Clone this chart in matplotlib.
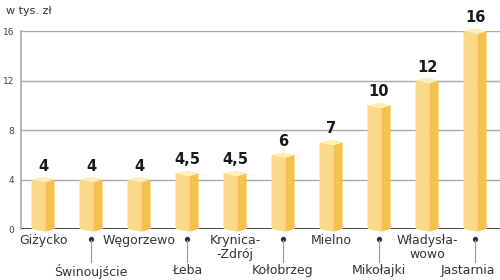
import numpy as np
import matplotlib.pyplot as plt
from matplotlib.patches import Polygon

# --- DATA ---
towns = ['Giżycko', 'Świnoujście', 'Węgorzewo', 'Łeba', 'Krynica-\n-Zdrój',
         'Kołobrzeg', 'Mielno', 'Mikołajki', 'Władysła-\nwowo', 'Jastarnia']
values = [4, 4, 4, 4.5, 4.5, 6, 7, 10, 12, 16]
value_labels = ['4', '4', '4', '4,5', '4,5', '6', '7', '10', '12', '16']
yticks = [0, 4, 8, 12, 16]

FRONT = '#fcd889'
SIDE = '#f5c04e'
TOP = '#fdefb8'

fig = plt.figure(figsize=(5, 2.8), dpi=100)
ax = fig.add_axes([0.042, 0.182, 0.958, 0.707])
ax.set_xlim(-0.46, 9.52)
ax.set_ylim(0, 16)

# grid
for t in yticks[1:]:
    ax.axhline(t, color='#a8a8a8', lw=1, zorder=0)
ax.axhline(0, color='#222222', lw=1.2, zorder=1)

# pseudo-3D bars
w = 0.24      # half width in category units
d = 0.05      # front edge offset from centre
e = 0.22      # perspective depth in data units
for i, v in enumerate(values):
    fx = i + d
    left = Polygon([(i - w, 0), (fx, -e), (fx, v - e), (i - w, v)],
                   closed=True, fc=FRONT, ec='none', zorder=3, clip_on=False)
    right = Polygon([(fx, -e), (i + w, 0), (i + w, v), (fx, v - e)],
                    closed=True, fc=SIDE, ec='none', zorder=3, clip_on=False)
    top = Polygon([(i - w, v), (i + 0.02, v + e), (i + w, v), (fx, v - e)],
                  closed=True, fc=TOP, ec='none', zorder=4, clip_on=False)
    ax.add_patch(left)
    ax.add_patch(right)
    ax.add_patch(top)
    ax.annotate(value_labels[i], (i, v), xytext=(0, 6), textcoords='offset pixels',
                ha='center', va='bottom', fontsize=10.5, fontweight='bold',
                color='#1a1a1a', annotation_clip=False)

# category labels, alternating rows with leader lines
for i, name in enumerate(towns):
    if i % 2 == 0:
        ax.annotate(name, (i, 0), xytext=(0, -5), textcoords='offset pixels',
                    ha='center', va='top', fontsize=9, color='#333333',
                    linespacing=1.05, annotation_clip=False)
    else:
        shift = -7 if i == len(towns) - 1 else 0
        ax.plot([i], [-0.82], marker='o', ms=2.8, color='#333333', clip_on=False)
        ax.plot([i, i], [-0.9, -2.7], color='#999999', lw=0.8, clip_on=False)
        ax.annotate(name, (i, 0), xytext=(shift, -35), textcoords='offset pixels',
                    ha='center', va='top', fontsize=9, color='#333333',
                    annotation_clip=False)

ax.set_yticks(yticks)
ax.set_yticklabels([str(t) for t in yticks], fontsize=6.5, color='#444444')
ax.tick_params(axis='y', length=0, pad=5)
ax.set_xticks([])
for s in ['top', 'right', 'bottom']:
    ax.spines[s].set_visible(False)
ax.spines['left'].set_color('#aaaaaa')
ax.spines['left'].set_linewidth(1.2)
ax.patch.set_alpha(0)

fig.text(0.012, 0.962, 'w tys. zł', fontsize=8, color='#333333', va='center')

fig.savefig('out.png', dpi=100)
